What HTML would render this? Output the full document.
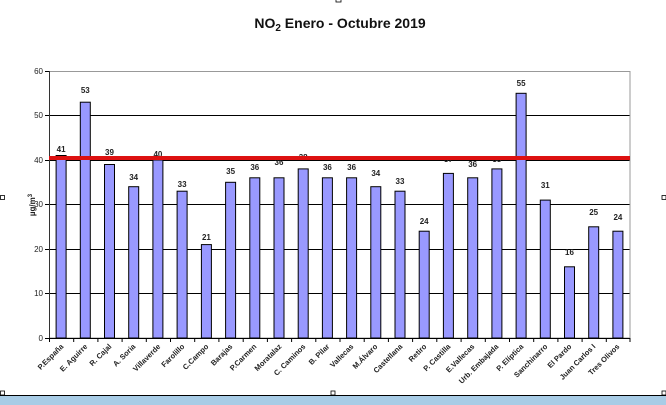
<!DOCTYPE html>
<html><head><meta charset="utf-8"><style>
html,body{margin:0;padding:0;background:#fff;}
svg{display:block;font-family:"Liberation Sans",Arial,sans-serif;}
</style></head><body>
<svg width="666" height="405" viewBox="0 0 666 405">
<rect x="0" y="0" width="666" height="405" fill="#fff"/>
<text x="340" y="28" font-size="14" font-weight="bold" text-anchor="middle" fill="#111">NO<tspan font-size="10" dy="3">2</tspan><tspan dy="-3">  Enero - Octubre 2019</tspan></text>
<rect x="336" y="-3" width="5" height="5" fill="#fff" stroke="#000" stroke-width="0.8"/>
<!-- grid -->
<g stroke="#000" stroke-width="1">
<line x1="49" y1="115.5" x2="630" y2="115.5"/>
<line x1="49" y1="160.5" x2="630" y2="160.5"/>
<line x1="49" y1="204.5" x2="630" y2="204.5"/>
<line x1="49" y1="249.5" x2="630" y2="249.5"/>
<line x1="49" y1="293.5" x2="630" y2="293.5"/>
</g>
<rect x="49.5" y="71.5" width="580.5" height="266.5" fill="none" stroke="#999" stroke-width="1"/>
<line x1="49" y1="338.5" x2="630" y2="338.5" stroke="#000"/>
<line x1="49.5" y1="71" x2="49.5" y2="338" stroke="#333"/>
<g stroke="#000" stroke-width="1">
<line x1="45" y1="71.5" x2="49" y2="71.5"/><line x1="45" y1="115.5" x2="49" y2="115.5"/><line x1="45" y1="160.5" x2="49" y2="160.5"/><line x1="45" y1="204.5" x2="49" y2="204.5"/><line x1="45" y1="249.5" x2="49" y2="249.5"/><line x1="45" y1="293.5" x2="49" y2="293.5"/><line x1="45" y1="338.5" x2="49" y2="338.5"/>
</g>
<g font-size="8" fill="#222" text-anchor="end">
<text x="43" y="74">60</text><text x="43" y="118">50</text><text x="43" y="163">40</text><text x="43" y="207">30</text><text x="43" y="252">20</text><text x="43" y="296">10</text><text x="43" y="341">0</text>
</g>
<text transform="translate(35,205) rotate(-90)" font-size="8" font-weight="bold" text-anchor="middle" fill="#222">µg/m<tspan font-size="6" dy="-3">3</tspan></text>
<!-- bars -->
<g fill="#9999ff" stroke="#000" stroke-width="1">
<rect x="56.1" y="155.5" width="10" height="182.5"/>
<rect x="80.3" y="102.2" width="10" height="235.8"/>
<rect x="104.5" y="164.5" width="10" height="173.5"/>
<rect x="128.7" y="186.7" width="10" height="151.3"/>
<rect x="152.9" y="160" width="10" height="178"/>
<rect x="177.1" y="191.2" width="10" height="146.8"/>
<rect x="201.4" y="244.6" width="10" height="93.4"/>
<rect x="225.6" y="182.3" width="10" height="155.7"/>
<rect x="249.8" y="177.8" width="10" height="160.2"/>
<rect x="274" y="177.8" width="10" height="160.2"/>
<rect x="298.2" y="168.9" width="10" height="169.1"/>
<rect x="322.4" y="177.8" width="10" height="160.2"/>
<rect x="346.6" y="177.8" width="10" height="160.2"/>
<rect x="370.8" y="186.7" width="10" height="151.3"/>
<rect x="395" y="191.2" width="10" height="146.8"/>
<rect x="419.2" y="231.2" width="10" height="106.8"/>
<rect x="443.4" y="173.4" width="10" height="164.6"/>
<rect x="467.7" y="177.8" width="10" height="160.2"/>
<rect x="491.9" y="168.9" width="10" height="169.1"/>
<rect x="516.1" y="93.3" width="10" height="244.7"/>
<rect x="540.3" y="200.1" width="10" height="137.9"/>
<rect x="564.5" y="266.8" width="10" height="71.2"/>
<rect x="588.7" y="226.8" width="10" height="111.2"/>
<rect x="612.9" y="231.2" width="10" height="106.8"/>
</g>
<!-- value labels -->
<g font-size="8" font-weight="bold" fill="#222" text-anchor="middle">
<text x="61.1" y="152">41</text><text x="85.3" y="93">53</text><text x="109.5" y="155">39</text><text x="133.7" y="180">34</text><text x="157.9" y="157">40</text><text x="182.1" y="187">33</text><text x="206.4" y="240">21</text><text x="230.6" y="174">35</text><text x="254.8" y="170">36</text><text x="279" y="165">36</text><text x="303.2" y="160">38</text><text x="327.4" y="170">36</text><text x="351.6" y="170">36</text><text x="375.8" y="176">34</text><text x="400" y="184">33</text><text x="424.2" y="224">24</text><text x="448.4" y="162">37</text><text x="472.7" y="167">36</text><text x="496.9" y="162">38</text><text x="521.1" y="86">55</text><text x="545.3" y="188">31</text><text x="569.5" y="255">16</text><text x="593.7" y="215">25</text><text x="617.9" y="220">24</text>
</g>
<!-- red limit line -->
<line x1="49" y1="158" x2="630" y2="158" stroke="#dd1111" stroke-width="4"/>
<!-- x ticks -->
<g stroke="#000" stroke-width="1">
<line x1="49.5" y1="338" x2="49.5" y2="342"/><line x1="73.7" y1="338" x2="73.7" y2="342"/><line x1="97.9" y1="338" x2="97.9" y2="342"/><line x1="122.1" y1="338" x2="122.1" y2="342"/><line x1="146.3" y1="338" x2="146.3" y2="342"/><line x1="170.5" y1="338" x2="170.5" y2="342"/><line x1="194.7" y1="338" x2="194.7" y2="342"/><line x1="218.9" y1="338" x2="218.9" y2="342"/><line x1="243.2" y1="338" x2="243.2" y2="342"/><line x1="267.4" y1="338" x2="267.4" y2="342"/><line x1="291.6" y1="338" x2="291.6" y2="342"/><line x1="315.8" y1="338" x2="315.8" y2="342"/><line x1="340" y1="338" x2="340" y2="342"/><line x1="364.2" y1="338" x2="364.2" y2="342"/><line x1="388.4" y1="338" x2="388.4" y2="342"/><line x1="412.6" y1="338" x2="412.6" y2="342"/><line x1="436.8" y1="338" x2="436.8" y2="342"/><line x1="461.1" y1="338" x2="461.1" y2="342"/><line x1="485.3" y1="338" x2="485.3" y2="342"/><line x1="509.5" y1="338" x2="509.5" y2="342"/><line x1="533.7" y1="338" x2="533.7" y2="342"/><line x1="557.9" y1="338" x2="557.9" y2="342"/><line x1="582.1" y1="338" x2="582.1" y2="342"/><line x1="606.3" y1="338" x2="606.3" y2="342"/><line x1="630" y1="338" x2="630" y2="342"/>
</g>
<!-- category labels -->
<g font-size="7.5" font-weight="bold" fill="#222" text-anchor="end">
<text transform="translate(64,347) rotate(-45)">P.España</text>
<text transform="translate(88,347) rotate(-45)">E. Aguirre</text>
<text transform="translate(112,347) rotate(-45)">R. Cajal</text>
<text transform="translate(136,347) rotate(-45)">A. Soria</text>
<text transform="translate(161,347) rotate(-45)">Villaverde</text>
<text transform="translate(185,347) rotate(-45)">Farolillo</text>
<text transform="translate(209,347) rotate(-45)">C.Campo</text>
<text transform="translate(233,347) rotate(-45)">Barajas</text>
<text transform="translate(257,347) rotate(-45)">P.Carmen</text>
<text transform="translate(282,347) rotate(-45)">Moratalaz</text>
<text transform="translate(306,347) rotate(-45)">C. Caminos</text>
<text transform="translate(330,347) rotate(-45)">B. Pilar</text>
<text transform="translate(354,347) rotate(-45)">Vallecas</text>
<text transform="translate(378,347) rotate(-45)">M.Álvaro</text>
<text transform="translate(403,347) rotate(-45)">Castellana</text>
<text transform="translate(427,347) rotate(-45)">Retiro</text>
<text transform="translate(451,347) rotate(-45)">P. Castilla</text>
<text transform="translate(475,347) rotate(-45)">E.Vallecas</text>
<text transform="translate(499,347) rotate(-45)">Urb. Embajada</text>
<text transform="translate(524,347) rotate(-45)">P. Elíptica</text>
<text transform="translate(548,347) rotate(-45)">Sanchinarro</text>
<text transform="translate(572,347) rotate(-45)">El Pardo</text>
<text transform="translate(596,347) rotate(-45)">Juan Carlos I</text>
<text transform="translate(620,347) rotate(-45)">Tres Olivos</text>
</g>
<!-- handles -->
<g fill="#fff" stroke="#000" stroke-width="0.8">
<rect x="0.5" y="195.5" width="4" height="4"/>
<rect x="662" y="195.5" width="4" height="4"/>
<rect x="0.5" y="391" width="4" height="4"/>
<rect x="331" y="391" width="4" height="4"/>
<rect x="662" y="391" width="4" height="4"/>
</g>
<line x1="0" y1="395.5" x2="666" y2="395.5" stroke="#000" stroke-width="1"/>
<rect x="0" y="396" width="666" height="9" fill="#a8cce6"/>
</svg>
</body></html>
